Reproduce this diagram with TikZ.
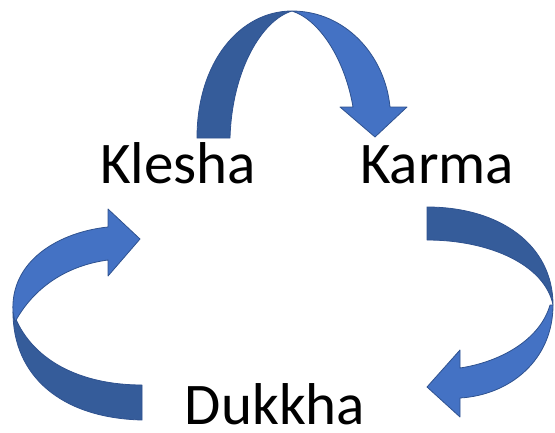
\documentclass[tikz,border=0pt]{standalone}
\usepackage{fontspec}
\setmainfont{Carlito}
\definecolor{lightblue}{HTML}{4472C4}
\definecolor{darkblue}{HTML}{355C9A}
\definecolor{edgeblue}{HTML}{2F528F}
\begin{document}
\begin{tikzpicture}[x=1pt,y=-1pt,
  front/.style={fill=lightblue,draw=edgeblue,line width=0.8pt,line join=round},
  back/.style={fill=darkblue,draw=edgeblue,line width=0.8pt,line join=round},
  word/.style={font=\fontsize{59}{60}\selectfont,anchor=base,inner sep=0pt}]
\useasboundingbox (0,0) rectangle (555,432);
% top arrow
\path[back] (197,138) .. controls (197,62) and (240,11) .. (292,11)
  .. controls (262,20) and (232,70) .. (230,138) -- cycle;
\path[front] (292,11) .. controls (345,11) and (385,55) .. (390,107)
  -- (407,107) -- (375,137) -- (340,107) -- (353,107)
  .. controls (345,60) and (320,20) .. (292,11) -- cycle;
% left arrow
\path[back] (142,420) .. controls (60,418) and (13,375) .. (13,312)
  .. controls (30,360) and (80,385) .. (142,385) -- cycle;
\path[front] (13,312) .. controls (10,260) and (60,232) .. (108,227)
  -- (108,209) -- (140,239) -- (108,276) -- (108,260)
  .. controls (70,265) and (35,285) .. (15,322) -- cycle;
% right arrow
\path[back] (427,207) .. controls (500,207) and (553,245) .. (553,305)
  .. controls (545,265) and (490,240) .. (427,240) -- cycle;
\path[front] (553,305) .. controls (553,360) and (510,395) .. (460,398)
  -- (460,417) -- (427,387) -- (460,350) -- (460,368)
  .. controls (500,362) and (540,340) .. (550,305) -- cycle;
% labels
\node[word] (klesha) at (178,183) {Klesha};
\node[word] (karma) at (437,183) {Karma};
\node[word] (dukkha) at (275,424) {Dukkha};
\end{tikzpicture}
\end{document}
